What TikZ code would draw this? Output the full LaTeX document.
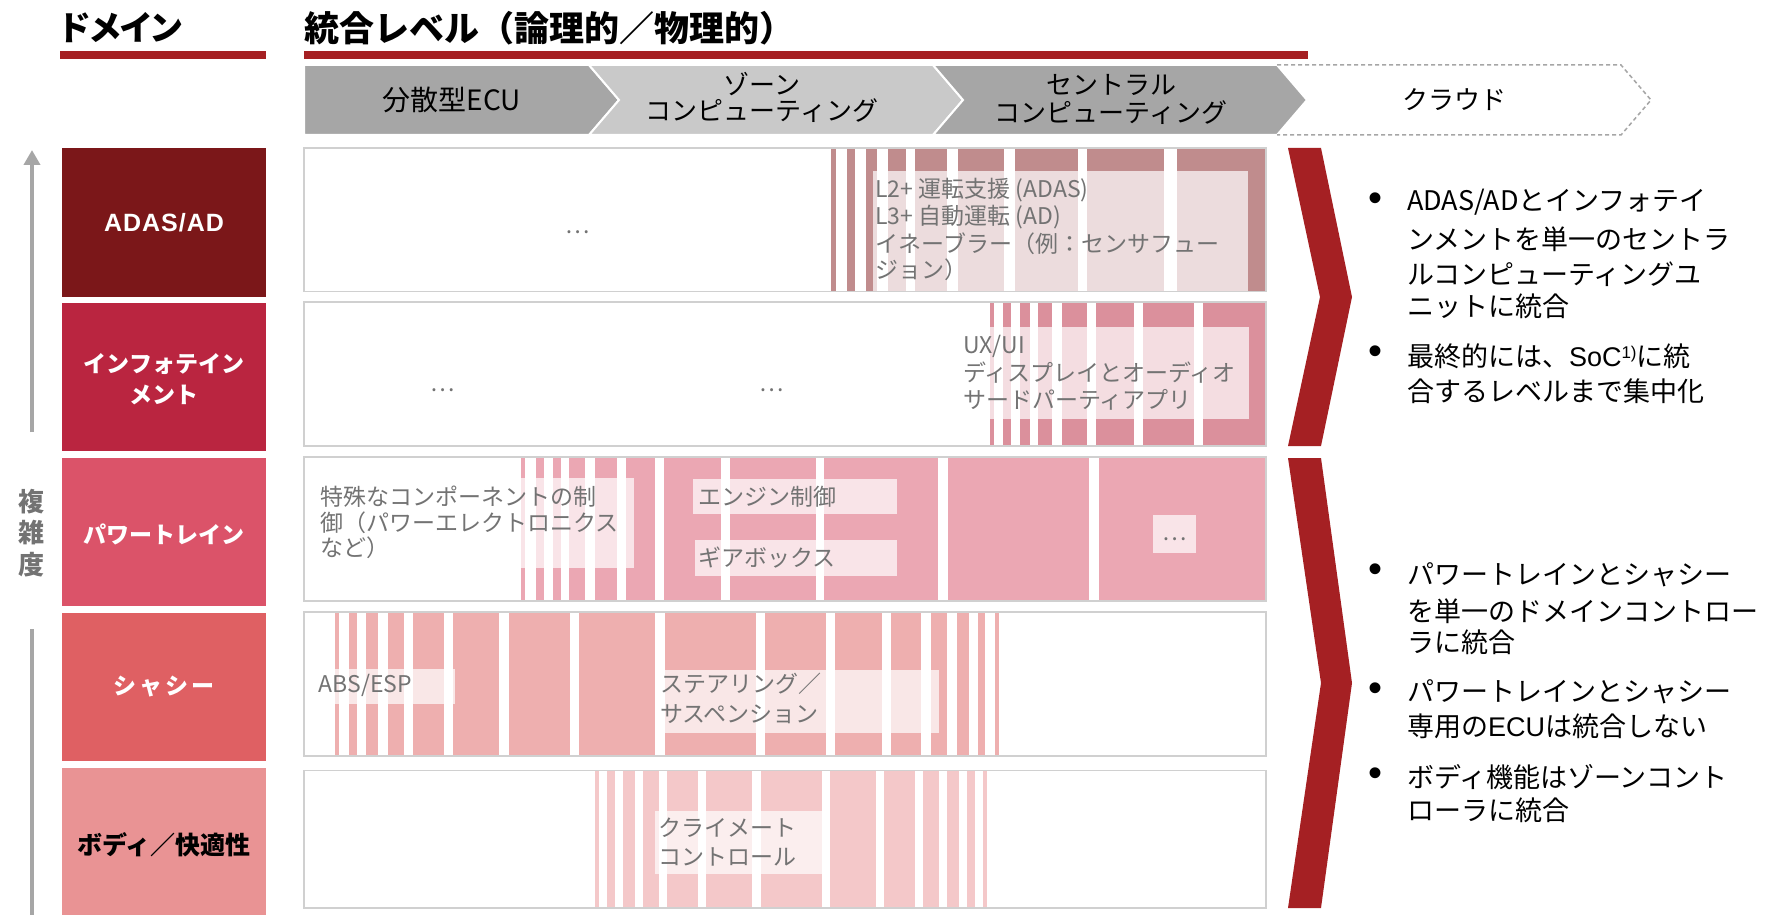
\documentclass[tikz,border=0pt]{standalone}
\usepackage{fontspec}
\setmainfont{Noto Sans CJK JP}
\newfontfamily\pjp[RawFeature=+palt]{Noto Sans CJK JP}
\newfontfamily\lat{Liberation Sans}
\usetikzlibrary{arrows.meta}
\definecolor{brandred}{HTML}{A52023}
\definecolor{greyD}{HTML}{A6A6A6}
\definecolor{greyL}{HTML}{C9C9C9}
\definecolor{framegrey}{HTML}{D0D0D0}
\definecolor{txtgrey}{HTML}{737373}
\definecolor{domA}{HTML}{7B1719}
\definecolor{domI}{HTML}{BA2540}
\definecolor{domP}{HTML}{DB5369}
\definecolor{domC}{HTML}{DF6063}
\definecolor{domB}{HTML}{E99394}
\definecolor{stA}{HTML}{C08C8D}
\definecolor{stI}{HTML}{DB909C}
\definecolor{stP}{HTML}{EBA7B3}
\definecolor{stC}{HTML}{EEAFAF}
\definecolor{stB}{HTML}{F4C8C9}
\begin{document}
\begin{tikzpicture}[x=1pt,y=-1pt,
  lbl/.style={inner sep=0pt,outer sep=0pt},
  ttl/.style={lbl,anchor=west,font=\bfseries\fontsize{35}{40}\selectfont},
  hdr/.style={lbl,font=\fontsize{26}{30}\selectfont},
  dom/.style={lbl,text=white,font=\bfseries\fontsize{23}{28}\selectfont},
  rowtxt/.style={lbl,anchor=west,text=txtgrey,font=\fontsize{23}{27}\selectfont},
  dots/.style={lbl,text=txtgrey,font=\fontsize{23}{27}\selectfont},
  bul/.style={lbl,anchor=west,font=\fontsize{27}{34}\selectfont},
  bdot/.style={lbl,font=\lat\fontsize{40}{40}\selectfont},
  frame/.style={draw=framegrey,line width=1.5pt},
  lightbox/.style={fill=white,fill opacity=0.7},
  hchev/.style={draw=white,line width=2pt},
  bigchev/.style={fill=brandred}
]
\useasboundingbox (0,0) rectangle (1767,915);
\fill[white] (0,0) rectangle (1767,915);

% ---------- titles ----------
\node[ttl,font=\pjp\bfseries\fontsize{34}{40}\selectfont] (tDom) at (60,28) {ドメイン};
\fill[brandred] (60,51) rectangle (266,59);
\node[ttl] (tInt) at (304,28) {統合レベル（論理的／物理的）};
\fill[brandred] (304,51) rectangle (1308,59);

% ---------- header chevrons ----------
\filldraw[hchev,fill=greyD] (304,65) -- (589,65) -- (619,100) -- (589,135) -- (304,135) -- cycle;
\filldraw[hchev,fill=greyL] (589,65) -- (933,65) -- (963,100) -- (933,135) -- (589,135) -- (619,100) -- cycle;
\filldraw[hchev,fill=greyD] (933,65) -- (1277,65) -- (1307,100) -- (1277,135) -- (933,135) -- (963,100) -- cycle;
\draw[draw=greyD,line width=1.5pt,dash pattern=on 4pt off 3pt] (1277,65) -- (1621,65) -- (1651,100) -- (1621,135) -- (1277,135);
\node[hdr,font=\fontsize{28}{30}\selectfont] (h1) at (452,100) {分散型ECU};
\node[hdr] (h2a) at (762,84) {ゾーン};
\node[hdr] (h2b) at (762,111) {コンピューティング};
\node[hdr] (h3a) at (1111,85) {セントラル};
\node[hdr] (h3b) at (1111,113) {コンピューティング};
\node[hdr] (h4) at (1454,100) {クラウド};

% ---------- complexity arrow ----------
\coordinate (arrBot) at (32,915);
\coordinate (arrGapLo) at (32,629);
\coordinate (arrGapHi) at (32,432);
\coordinate (arrTop) at (32,150);
\draw[greyD,line width=4pt] (arrBot) -- (arrGapLo);
\draw[greyD,line width=4pt,-{Triangle[width=16pt,length=15pt]}] (arrGapHi) -- (arrTop);
\node[lbl,text=txtgrey,font=\bfseries\fontsize{26}{30}\selectfont] (cx1) at (31,502) {複};
\node[lbl,text=txtgrey,font=\bfseries\fontsize{26}{30}\selectfont] (cx2) at (31,533) {雑};
\node[lbl,text=txtgrey,font=\bfseries\fontsize{26}{30}\selectfont] (cx3) at (31,565) {度};

% ---------- domain boxes ----------
\fill[domA] (62,148) rectangle (266,297);
\fill[domI] (62,303) rectangle (266,451);
\fill[domP] (62,458) rectangle (266,606);
\fill[domC] (62,613) rectangle (266,761);
\fill[domB] (62,768) rectangle (266,915);
\node[dom,font=\lat\bfseries\fontsize{25}{28}\selectfont\addfontfeature{LetterSpace=4}] (dA) at (164,223) {ADAS/AD};
\node[dom] (dI1) at (164,364) {インフォテイン};
\node[dom] (dI2) at (164,395) {メント};
\node[dom] (dP) at (164,534) {パワートレイン};
\node[dom,font=\bfseries\fontsize{23}{28}\selectfont\addfontfeature{LetterSpace=12}] (dC) at (164,687) {シャシー};
\node[dom,text=black,font=\bfseries\fontsize{25}{28}\selectfont] (dB) at (164,845) {ボディ／快適性};

% ---------- row: ADAS ----------
\fill[white] (304,148) rectangle (1266,291.7);
\foreach \a/\b in {831/836,847/854.5,866/877,887.6/905.5,915/947,958/1004,1015/1078,1087/1164,1176.5/1266}
  \fill[stA] (\a,148) rectangle (\b,291.7);
\fill[lightbox] (873,171) rectangle (1248,291.7);
\draw[frame] (304,148) rectangle (1266,291.7);
\node[dots] (aDots) at (578,232) {…};
\node[rowtxt] (a1) at (875.5,190.5) {L2+ 運転支援 (ADAS)};
\node[rowtxt] (a2) at (875.5,217) {L3+ 自動運転 (AD)};
\node[rowtxt] (a3) at (875.5,243.5) {イネーブラー（例：センサフュー};
\node[rowtxt] (a4) at (875.5,270) {ジョン）};

% ---------- row: Infotainment ----------
\fill[white] (304,302) rectangle (1266,446);
\foreach \a/\b in {990/993.5,1003/1011,1020/1030,1038/1052,1062/1087,1096/1134,1143/1194,1203/1266}
  \fill[stI] (\a,302) rectangle (\b,446);
\fill[lightbox] (990,327) rectangle (1249,419);
\draw[frame] (304,302) rectangle (1266,446);
\node[dots] (iDots1) at (443,390) {…};
\node[dots] (iDots2) at (771.5,390) {…};
\node[rowtxt] (i1) at (963,346) {UX/UI};
\node[rowtxt] (i2) at (963,373) {ディスプレイとオーディオ};
\node[rowtxt] (i3) at (963,400) {サードパーティアプリ};

% ---------- row: Powertrain ----------
\fill[white] (304,457) rectangle (1266,601);
\foreach \a/\b in {521/525,535.5/544,553/561,569/585,595/617,626/655,664/721,730/816,824/938,948/1089,1099/1266}
  \fill[stP] (\a,457) rectangle (\b,601);
\fill[lightbox] (521,478) rectangle (634,568);
\fill[lightbox] (693,479) rectangle (897,514);
\fill[lightbox] (695,540) rectangle (897,576);
\fill[lightbox] (1153,515) rectangle (1196,553);
\draw[frame] (304,457) rectangle (1266,601);
\node[rowtxt] (p1) at (320.6,497) {特殊なコンポーネントの制};
\node[rowtxt] (p2) at (320.6,523) {御（パワーエレクトロニクス};
\node[rowtxt] (p3) at (320.6,548) {など）};
\node[rowtxt] (p4) at (698,497) {エンジン制御};
\node[rowtxt] (p5) at (698,558) {ギアボックス};
\node[dots] (pDots) at (1175,539) {…};

% ---------- row: Chassis ----------
\fill[white] (304,612) rectangle (1266,756);
\foreach \a/\b in {334.6/339,349/357,366/378,388/404,413/444,453/499,509/570,579/655,665/755.6,765/826,835/882,891/921,931/947,956.5/969,978/985,995/999}
  \fill[stC] (\a,612) rectangle (\b,756);
\fill[lightbox] (334.6,669) rectangle (454.6,704);
\fill[lightbox] (665,670) rectangle (939,733);
\draw[frame] (304,612) rectangle (1266,756);
\node[rowtxt] (c1) at (318.7,685) {ABS/ESP};
\node[rowtxt] (c2) at (660,684) {ステアリング／};
\node[rowtxt] (c3) at (660,714) {サスペンション};

% ---------- row: Body ----------
\fill[white] (304,770.7) rectangle (1266,908);
\foreach \a/\b in {595/599,607/615,623/635,643/659,667/698,706/752,761/822,830/876,884/915,923/939,947/959,967/975,983/987}
  \fill[stB] (\a,770.7) rectangle (\b,908);
\fill[lightbox] (655,810.7) rectangle (822,874);
\draw[frame] (304,770.7) rectangle (1266,908);
\node[rowtxt] (b1) at (658.6,828) {クライメート};
\node[rowtxt] (b2) at (658.6,857) {コントロール};

% ---------- big red chevrons ----------
\fill[bigchev] (1288,148) -- (1321,148) -- (1352,297) -- (1321,446) -- (1288,446) -- (1320,297) -- cycle;
\fill[bigchev] (1288,458) -- (1321,458) -- (1352,683) -- (1321,908) -- (1288,908) -- (1321,683) -- cycle;

% ---------- bullets ----------
\node[bdot] (u1) at (1375,202) {•};
\node[bul] (u1a) at (1407,202.5) {ADAS/ADとインフォテイ};
\node[bul] (u1b) at (1407,239.7) {ンメントを単一のセントラ};
\node[bul] (u1c) at (1407,274) {ルコンピューティングユ};
\node[bul] (u1d) at (1407,306.7) {ニットに統合};
\node[bdot] (u2) at (1375,355) {•};
\node[bul] (u2a) at (1407,356.7) {最終的には、{\lat SoC}\raisebox{0.6ex}{\lat\fontsize{17}{17}\selectfont 1)}に統};
\node[bul] (u2b) at (1407,391) {合するレベルまで集中化};
\node[bdot] (u3) at (1375,573) {•};
\node[bul] (u3a) at (1407,575) {パワートレインとシャシー};
\node[bul] (u3b) at (1407,611) {を単一のドメインコントロー};
\node[bul] (u3c) at (1407,642.5) {ラに統合};
\node[bdot] (u4) at (1375,692) {•};
\node[bul] (u4a) at (1407,691.7) {パワートレインとシャシー};
\node[bul] (u4b) at (1407,726) {専用の{\lat ECU}は統合しない};
\node[bdot] (u5) at (1375,777) {•};
\node[bul] (u5a) at (1407,776.7) {ボディ機能はゾーンコント};
\node[bul] (u5b) at (1407,810) {ローラに統合};
\end{tikzpicture}
\end{document}
